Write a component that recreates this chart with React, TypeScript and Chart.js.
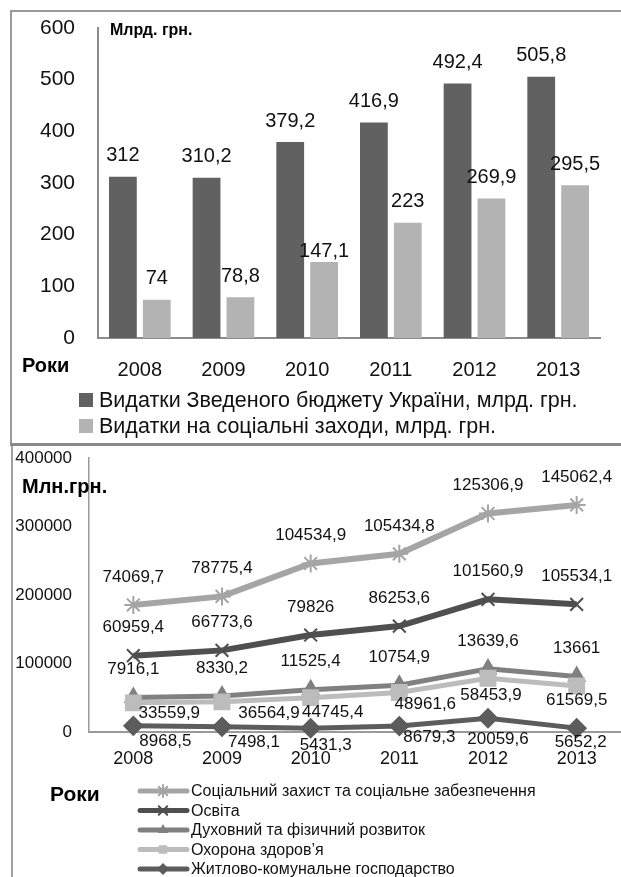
import React, { useEffect, useRef } from "react";
import { Chart, registerables } from "chart.js";

Chart.register(...registerables);

// ---------- DATA ----------
const years = ["2008", "2009", "2010", "2011", "2012", "2013"];

// top chart (млрд. грн.)
const budgetTotal = [312, 310.2, 379.2, 416.9, 492.4, 505.8];
const budgetSocial = [74, 78.8, 147.1, 223, 269.9, 295.5];
const budgetLabels = [
  "Видатки Зведеного бюджету України, млрд. грн.",
  "Видатки на соціальні заходи, млрд. грн.",
];

// bottom chart (млн. грн.), stacked lines
const socialProtection = [74069.7, 78775.4, 104534.9, 105434.8, 125306.9, 145062.4];
const education = [60959.4, 66773.6, 79826, 86253.6, 101560.9, 105534.1];
const culture = [7916.1, 8330.2, 11525.4, 10754.9, 13639.6, 13661];
const health = [33559.9, 36564.9, 44745.4, 48961.6, 58453.9, 61569.5];
const housing = [8968.5, 7498.1, 5431.3, 8679.3, 20059.6, 5652.2];

const seriesNames = {
  social: "Соціальний захист та соціальне забезпечення",
  education: "Освіта",
  culture: "Духовний та фізичний розвиток",
  health: "Охорона здоров’я",
  housing: "Житлово-комунальне господарство",
};

// ---------- STYLE ----------
const FONT = "'Liberation Sans', Arial, sans-serif";
const DARK_BAR = "#616161";
const LIGHT_BAR = "#b3b3b3";

// label offsets (styling)
const barLabelGap = [
  [21, 21, 21, 21, 21, 21],
  [21, 21, 11, 21, 21, 21],
];
const healthShiftX = [36, 47, 22, 26, 3, 0];
const healthShiftY = [10, 11, 15, 12, 17, 14];
const housingShiftX = [32, 32, 15, 30, 10, 4];
const housingShiftY = [15, 15, 17, 11, 21, 14];

const fmt = (v: number) => String(v).replace(".", ",");

function drawMarker(ctx: CanvasRenderingContext2D, style: string, x: number, y: number, r: number, color: string) {
  ctx.save();
  ctx.fillStyle = color;
  ctx.strokeStyle = color;
  ctx.lineWidth = 2;
  ctx.beginPath();
  if (style === "star" || style === "crossRot") {
    const d = r * Math.SQRT1_2;
    ctx.moveTo(x - d, y - d); ctx.lineTo(x + d, y + d);
    ctx.moveTo(x - d, y + d); ctx.lineTo(x + d, y - d);
    if (style === "star") {
      ctx.moveTo(x, y - r); ctx.lineTo(x, y + r);
      ctx.moveTo(x - r, y); ctx.lineTo(x + r, y);
    }
    ctx.stroke();
  } else if (style === "triangle") {
    ctx.moveTo(x, y - r);
    ctx.lineTo(x + r * 0.866, y + r * 0.5);
    ctx.lineTo(x - r * 0.866, y + r * 0.5);
    ctx.closePath();
    ctx.fill();
  } else if (style === "rect") {
    const s = r * Math.SQRT1_2;
    ctx.rect(x - s, y - s, 2 * s, 2 * s);
    ctx.fill();
  } else if (style === "rectRot") {
    ctx.moveTo(x, y - r); ctx.lineTo(x + r, y); ctx.lineTo(x, y + r); ctx.lineTo(x - r, y);
    ctx.closePath();
    ctx.fill();
  }
  ctx.restore();
}

const topDecor = {
  id: "topDecor",
  beforeDraw(chart: any) {
    const ctx = chart.ctx as CanvasRenderingContext2D;
    ctx.save();
    ctx.fillStyle = "#ffffff";
    ctx.fillRect(0, 0, chart.width, chart.height);
    ctx.strokeStyle = "#9a9a9a";
    ctx.lineWidth = 2;
    ctx.beginPath();
    ctx.moveTo(11, chart.height);
    ctx.lineTo(11, 11);
    ctx.lineTo(chart.width, 11);
    ctx.stroke();
    ctx.restore();
  },
  afterDatasetsDraw(chart: any) {
    const ctx = chart.ctx as CanvasRenderingContext2D;
    ctx.save();
    ctx.font = `20px ${FONT}`;
    ctx.fillStyle = "#111";
    ctx.textAlign = "center";
    ctx.textBaseline = "middle";
    chart.data.datasets.forEach((ds: any, i: number) => {
      const meta = chart.getDatasetMeta(i);
      meta.data.forEach((el: any, j: number) => {
        ctx.fillText(fmt(ds.data[j]), el.x, el.y - barLabelGap[i][j]);
      });
    });
    ctx.restore();
  },
  afterDraw(chart: any) {
    const ctx = chart.ctx as CanvasRenderingContext2D;
    ctx.save();
    ctx.fillStyle = "#000";
    ctx.textBaseline = "middle";
    ctx.textAlign = "left";
    ctx.font = `bold 16px ${FONT}`;
    ctx.fillText("Млрд. грн.", 110, 31);
    ctx.font = `bold 20px ${FONT}`;
    ctx.fillText("Роки", 22, 366);
    const colors = [DARK_BAR, LIGHT_BAR];
    const rows = [400, 426];
    ctx.font = `21.5px ${FONT}`;
    budgetLabels.forEach((t, i) => {
      ctx.fillStyle = colors[i];
      ctx.fillRect(79, rows[i] - 7, 14, 14);
      ctx.fillStyle = "#111";
      ctx.fillText(t, 99, rows[i] + 1);
    });
    ctx.restore();
  },
};

type LineSpec = {
  key: keyof typeof seriesNames;
  data: number[];
  color: string;
  width: number;
  style: string;
  radius: number;
};

const lineSpecs: LineSpec[] = [
  { key: "housing", data: housing, color: "#5c5c5c", width: 5, style: "rectRot", radius: 9 },
  { key: "health", data: health, color: "#bcbcbc", width: 5, style: "rect", radius: 10.5 },
  { key: "culture", data: culture, color: "#808080", width: 5, style: "triangle", radius: 9 },
  { key: "education", data: education, color: "#4f4f4f", width: 6, style: "crossRot", radius: 9 },
  { key: "social", data: socialProtection, color: "#a5a5a5", width: 6, style: "star", radius: 9 },
];

const legendOrder: (keyof typeof seriesNames)[] = ["social", "education", "culture", "health", "housing"];

const bottomDecor = {
  id: "bottomDecor",
  beforeDraw(chart: any) {
    const ctx = chart.ctx as CanvasRenderingContext2D;
    ctx.save();
    ctx.fillStyle = "#ffffff";
    ctx.fillRect(0, 0, chart.width, chart.height);
    ctx.fillStyle = "#8a8a8a";
    ctx.fillRect(10, 0, chart.width - 10, 3);
    ctx.fillStyle = "#a0a0a0";
    ctx.fillRect(11, 3, 2, chart.height - 3);
    ctx.restore();
  },
  afterDatasetsDraw(chart: any) {
    const ctx = chart.ctx as CanvasRenderingContext2D;
    ctx.save();
    ctx.font = `17px ${FONT}`;
    ctx.fillStyle = "#111";
    ctx.textAlign = "center";
    ctx.textBaseline = "middle";
    chart.data.datasets.forEach((ds: any, i: number) => {
      const meta = chart.getDatasetMeta(i);
      const key = ds.seriesKey;
      meta.data.forEach((el: any, j: number) => {
        const txt = fmt(ds.data[j]);
        let x = el.x;
        let y = el.y - 28;
        if (key === "health") {
          x = el.x + healthShiftX[j];
          y = el.y + healthShiftY[j];
        } else if (key === "housing") {
          x = el.x + housingShiftX[j];
          y = el.y + housingShiftY[j];
        }
        ctx.fillText(txt, x, y);
      });
    });
    ctx.restore();
  },
  afterDraw(chart: any) {
    const ctx = chart.ctx as CanvasRenderingContext2D;
    ctx.save();
    ctx.fillStyle = "#000";
    ctx.textBaseline = "middle";
    ctx.textAlign = "left";
    ctx.font = `bold 20px ${FONT}`;
    ctx.fillText("Млн.грн.", 22, 44);
    ctx.font = `bold 21px ${FONT}`;
    ctx.fillText("Роки", 50, 352);
    ctx.font = `16px ${FONT}`;
    legendOrder.forEach((k, i) => {
      const spec = lineSpecs.find((s) => s.key === k)!;
      const y = 348 + i * 19.5;
      ctx.strokeStyle = spec.color;
      ctx.lineWidth = 5;
      ctx.lineCap = "round";
      ctx.beginPath();
      ctx.moveTo(140, y);
      ctx.lineTo(187, y);
      ctx.stroke();
      drawMarker(ctx, spec.style, 163, y, 6, spec.color);
      ctx.fillStyle = "#111";
      ctx.fillText(seriesNames[k], 191, y + 1);
    });
    ctx.restore();
  },
};

const zeroPadX = (h: number) => (s: any) => {
  s.height = h;
  s.paddingLeft = 0;
  s.paddingRight = 0;
};
const zeroPadY = (w: number) => (s: any) => {
  s.width = w;
  s.paddingTop = 0;
  s.paddingBottom = 0;
};

export default function App() {
  const topRef = useRef<HTMLCanvasElement>(null);
  const bottomRef = useRef<HTMLCanvasElement>(null);

  useEffect(() => {
    const topChart = new Chart(topRef.current!, {
      type: "bar",
      data: {
        labels: years,
        datasets: [
          { label: budgetLabels[0], data: budgetTotal, backgroundColor: DARK_BAR, borderWidth: 0, categoryPercentage: 0.81, barPercentage: 0.82 },
          { label: budgetLabels[1], data: budgetSocial, backgroundColor: LIGHT_BAR, borderWidth: 0, categoryPercentage: 0.81, barPercentage: 0.82 },
        ],
      },
      options: {
        animation: false,
        responsive: false,
        devicePixelRatio: 1,
        layout: { autoPadding: false, padding: { left: 0, right: 21, top: 28, bottom: 0 } },
        plugins: { legend: { display: false }, tooltip: { enabled: false } },
        scales: {
          x: {
            grid: { display: false, drawTicks: false },
            border: { display: true, color: "#8c8c8c", width: 2 },
            ticks: { font: { size: 20, family: FONT }, color: "#111", padding: 20 },
            afterFit: zeroPadX(105),
          },
          y: {
            min: 0,
            max: 600,
            grid: { display: false, drawTicks: false },
            border: { display: true, color: "#8c8c8c", width: 2 },
            ticks: { stepSize: 100, font: { size: 21, family: FONT }, color: "#111", padding: 23 },
            afterFit: zeroPadY(98),
          },
        },
      },
      plugins: [topDecor],
    } as any);

    const bottomChart = new Chart(bottomRef.current!, {
      type: "line",
      data: {
        labels: years,
        datasets: lineSpecs.map((s) => ({
          label: seriesNames[s.key],
          seriesKey: s.key,
          data: s.data,
          borderColor: s.color,
          backgroundColor: s.color,
          pointBackgroundColor: s.color,
          pointBorderColor: s.color,
          borderWidth: s.width,
          pointStyle: s.style,
          pointRadius: s.radius,
          pointBorderWidth: 2,
          fill: false,
          tension: 0,
          clip: false,
        })),
      },
      options: {
        animation: false,
        responsive: false,
        devicePixelRatio: 1,
        layout: { autoPadding: false, padding: { left: 0, right: 0, top: 15, bottom: 0 } },
        plugins: { legend: { display: false }, tooltip: { enabled: false } },
        scales: {
          x: {
            offset: true,
            grid: { display: false, drawTicks: false },
            border: { display: true, color: "#9a9a9a", width: 2 },
            ticks: { font: { size: 18, family: FONT }, color: "#111", padding: 16 },
            afterFit: zeroPadX(145),
          },
          y: {
            stacked: true,
            min: 0,
            max: 400000,
            grid: { display: false, drawTicks: false },
            border: { display: true, color: "#9a9a9a", width: 1.5 },
            ticks: {
              stepSize: 100000,
              font: { size: 17, family: FONT },
              color: "#111",
              padding: 17,
              callback: (v: any) => String(v),
            },
            afterFit: zeroPadY(89),
          },
        },
      },
      plugins: [bottomDecor],
    } as any);

    return () => {
      topChart.destroy();
      bottomChart.destroy();
    };
  }, []);

  return (
    <div style={{ position: "absolute", left: 0, top: 0, width: 621, height: 877, background: "#fff" }}>
      <canvas ref={topRef} width={621} height={443} style={{ display: "block", width: 621, height: 443 }} />
      <canvas ref={bottomRef} width={621} height={434} style={{ display: "block", width: 621, height: 434 }} />
    </div>
  );
}
